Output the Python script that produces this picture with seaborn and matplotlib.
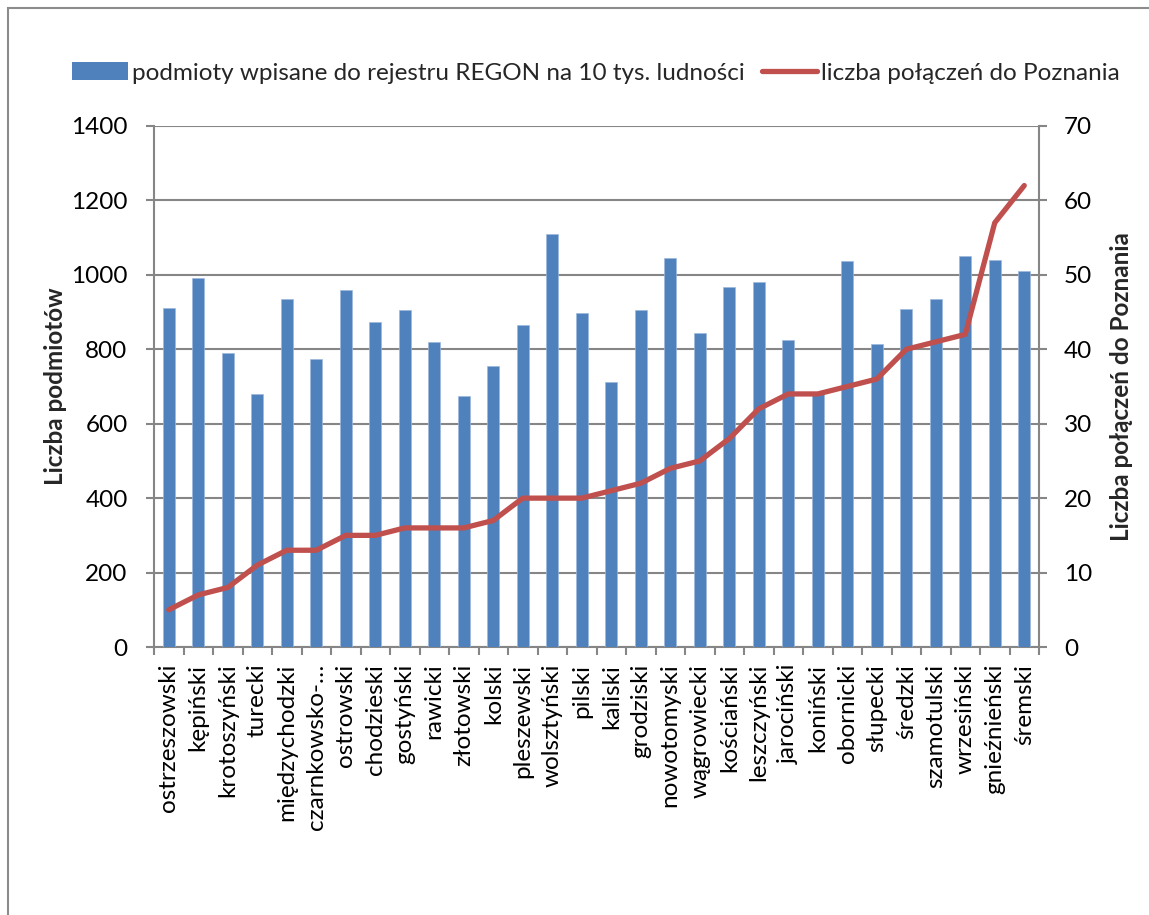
import numpy as np
import pandas as pd
import seaborn as sns
import matplotlib.pyplot as plt
from matplotlib.patches import Patch, Rectangle
from matplotlib.lines import Line2D

# Powiaty ordered by number of connections to Poznań
powiaty = [
    "ostrzeszowski", "kępiński", "krotoszyński", "turecki", "międzychodzki",
    "czarnkowsko-…", "ostrowski", "chodzieski", "gostyński", "rawicki",
    "złotowski", "kolski", "pleszewski", "wolsztyński", "pilski",
    "kaliski", "grodziski", "nowotomyski", "wągrowiecki", "kościański",
    "leszczyński", "jarociński", "koniński", "obornicki", "słupecki",
    "średzki", "szamotulski", "wrzesiński", "gnieźnieński", "śremski",
]

# REGON-registered entities per 10 thousand inhabitants
podmioty = [
    911, 992, 791, 680, 936, 775, 960, 873, 906, 819,
    674, 755, 865, 1111, 898, 713, 906, 1044, 843, 968,
    980, 824, 679, 1038, 813, 909, 936, 1052, 1040, 1010,
]

# Number of connections to Poznań
polaczenia = [
    5, 7, 8, 11, 13, 13, 15, 15, 16, 16,
    16, 17, 20, 20, 20, 21, 22, 24, 25, 28,
    32, 34, 34, 35, 36, 40, 41, 42, 57, 62,
]

label_bar = "podmioty wpisane do rejestru REGON na 10 tys. ludności"
label_line = "liczba połączeń do Poznania"

BLUE = "#4F81BD"
RED = "#C0504D"
GRID = "#868686"

sns.set_theme(style="white")
plt.rcParams["font.family"] = ["Lato", "DejaVu Sans"]
FS = 17.5

df = pd.DataFrame({"powiat": powiaty, "podmioty": podmioty, "polaczenia": polaczenia})
df["pos"] = np.arange(len(df))

fig = plt.figure(figsize=(11.49, 9.15), dpi=100)
ax = fig.add_axes([154 / 1149, 1 - 647 / 915, (1039 - 154) / 1149, (647 - 126) / 915])

sns.barplot(data=df, x="powiat", y="podmioty", color=BLUE, saturation=1,
            width=0.4, ax=ax, zorder=3, edgecolor="#9DB9DC", linewidth=0.5)

ax.set_ylim(0, 1400)
ax.set_yticks(np.arange(0, 1401, 200))
ax.set_xlim(-0.5, len(df) - 0.5)
ax.yaxis.grid(True, color=GRID, linewidth=1.5, zorder=0)
ax.set_axisbelow(True)

for s in ["top", "right"]:
    ax.spines[s].set_visible(False)
for s in ["left", "bottom"]:
    ax.spines[s].set_color(GRID)
    ax.spines[s].set_linewidth(1.5)

ax.tick_params(axis="y", which="major", direction="out", length=6, width=1.5,
               color=GRID, pad=13, labelsize=FS, labelcolor="black", left=True)
ax.set_xticks(df["pos"])
ax.set_xticklabels(df["powiat"], rotation=90, fontsize=FS, va="top", ha="center")
ax.tick_params(axis="x", which="major", length=0, pad=12, labelcolor="black")
ax.set_xticks(np.arange(-0.5, len(df), 1), minor=True)
ax.tick_params(axis="x", which="minor", direction="out", length=6, width=1.5,
               color=GRID, bottom=True)
ax.set_xlabel("")
ax.set_ylabel("Liczba podmiotów", fontsize=FS, fontweight="bold", labelpad=3)

ax2 = ax.twinx()
sns.lineplot(data=df, x="pos", y="polaczenia", color=RED, linewidth=3.8,
             ax=ax2, zorder=4, solid_capstyle="round")
ax2.set_ylim(0, 70)
ax2.set_yticks(np.arange(0, 71, 10))
ax2.set_xlim(-0.5, len(df) - 0.5)
for s in ["top", "left", "bottom"]:
    ax2.spines[s].set_visible(False)
ax2.spines["right"].set_color(GRID)
ax2.spines["right"].set_linewidth(1.5)
ax2.tick_params(axis="y", direction="out", length=6, width=1.5, color=GRID,
                pad=12, labelsize=FS, labelcolor="black", right=True)
ax2.set_ylabel("Liczba połączeń do Poznania", fontsize=FS, fontweight="bold",
               labelpad=13)
ax2.grid(False)

handles = [
    Patch(facecolor=BLUE, edgecolor="none"),
    Line2D([0], [0], color=RED, linewidth=3.8),
]
fig.legend(handles, [label_bar, label_line], loc="center",
           bbox_to_anchor=(596 / 1149, 1 - 73 / 915), ncol=2, frameon=False,
           fontsize=FS, handlelength=2.3, handleheight=0.7, handletextpad=0.15,
           columnspacing=0.7, borderaxespad=0)

# Chart-area frame
fig.patches.append(Rectangle((8 / 1149, -0.05), 1.2, 1 - 8 / 915 + 0.05,
                             transform=fig.transFigure, fill=False,
                             edgecolor="#8C8C8C", linewidth=1.5))

fig.savefig("out.png", dpi=100)
